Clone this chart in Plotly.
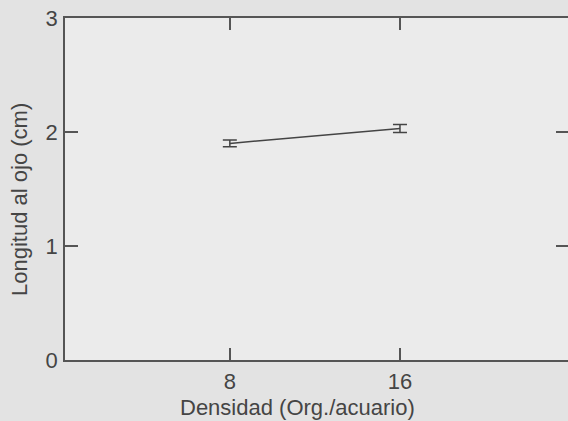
import plotly.graph_objects as go

densidad = [8, 16]
longitud = [1.90, 2.03]
error = [0.03, 0.035]
x_ticks = [8, 16]
y_ticks = [0, 1, 2, 3]

font_family = "Liberation Sans, Arial, sans-serif"
ink = "#454545"

fig = go.Figure()
fig.add_trace(go.Scatter(
    x=densidad, y=longitud, mode="lines",
    line=dict(color="#444444", width=1.5),
    error_y=dict(type="data", array=error, visible=True, width=7,
                 thickness=1.5, color="#444444"),
    showlegend=False, hoverinfo="skip",
))
fig.add_trace(go.Scatter(
    x=densidad, y=longitud, mode="lines", yaxis="y2",
    line=dict(color="rgba(0,0,0,0)", width=0),
    showlegend=False, hoverinfo="skip",
))

fig.update_layout(
    width=568, height=421,
    margin=dict(l=65, r=0, t=18, b=61),
    paper_bgcolor="#e3e3e3",
    plot_bgcolor="#ebebeb",
    font=dict(family=font_family, size=22, color=ink),
    xaxis=dict(
        range=[0.25, 23.9], tickvals=x_ticks, ticktext=[str(v) for v in x_ticks],
        ticks="inside", ticklen=12, tickwidth=1.5, tickcolor="#555555",
        showline=True, linecolor="#555555", linewidth=1.5, mirror="ticks",
        showgrid=False, zeroline=False, ticklabelstandoff=1,
    ),
    yaxis=dict(
        range=[0, 3], tickvals=y_ticks,
        ticks="inside", ticklen=13, tickwidth=1.5, tickcolor="#555555",
        showline=True, linecolor="#555555", linewidth=1.5, mirror=False,
        showgrid=False, zeroline=False, ticklabelstandoff=1,
    ),
    yaxis2=dict(
        range=[0, 3], tickvals=y_ticks, overlaying="y", side="right",
        ticks="inside", ticklen=12, tickwidth=1.5, tickcolor="#555555",
        showline=False, showticklabels=False, showgrid=False, zeroline=False,
    ),
    annotations=[
        dict(text="Densidad (Org./acuario)", xref="paper", yref="paper",
             x=0.463, y=-0.14, xanchor="center", yanchor="middle",
             showarrow=False, font=dict(size=22, color=ink)),
        dict(text="Longitud al ojo (cm)", xref="paper", yref="paper",
             x=-0.09, y=0.47, xanchor="center", yanchor="middle",
             textangle=-90, showarrow=False, font=dict(size=22, color=ink)),
    ],
)

fig.write_html(
    "out.html",
    config={"displayModeBar": False},
    post_script="document.body.style.margin='0';document.body.style.overflow='hidden';",
)
